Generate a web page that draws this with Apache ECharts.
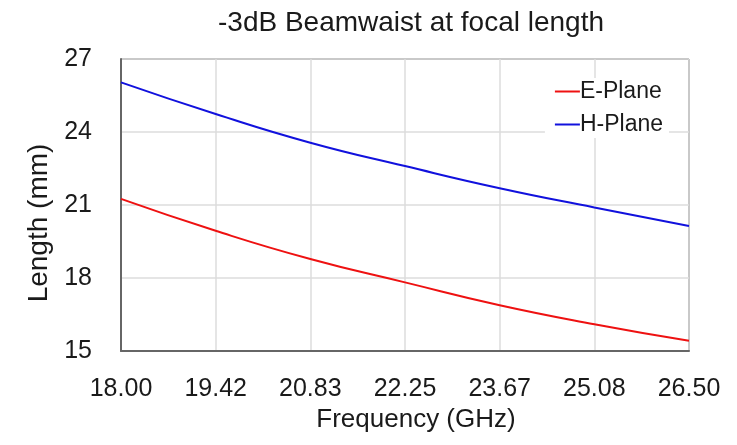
<!DOCTYPE html>
<html>
<head>
<meta charset="utf-8">
<script src="https://cdn.jsdelivr.net/npm/echarts@6/dist/echarts.min.js"></script>
<style>
  html, body { margin: 0; padding: 0; background: #fff; }
  #chart { width: 737px; height: 445px; }
</style>
</head>
<body>
<div id="chart"></div>
<script>
// frequency tick labels (GHz)
var freqLabels = ['18.00', '19.42', '20.83', '22.25', '23.67', '25.08', '26.50']
// -3dB beamwaist (mm)
var ePlane = [21.25, 19.94, 18.78, 17.82, 16.88, 16.10, 15.42]
var hPlane = [26.04, 24.74, 23.56, 22.60, 21.69, 20.90, 20.14]

var font = "'Liberation Sans', Arial, sans-serif"

var chart = echarts.init(document.getElementById('chart'))
chart.setOption({
  animation: false,
  textStyle: { fontFamily: font },
  title: {
    text: '-3dB Beamwaist at focal length',
    left: 406,
    textAlign: 'center',
    top: 4,
    textStyle: { fontFamily: font, fontSize: 28, fontWeight: 'normal', color: '#1a1a1a' }
  },
  grid: {
    left: 121,
    right: 48,
    top: 59,
    bottom: 94,
    show: true,
    borderColor: '#222',
    borderWidth: 1
  },
  legend: {
    right: 68,
    top: 78,
    orient: 'vertical',
    itemWidth: 25,
    itemHeight: 2,
    itemGap: 10,
    padding: [2, 6, 2, 10],
    backgroundColor: '#fff',
    icon: 'rect',
    textStyle: { fontFamily: font, fontSize: 23, color: '#1a1a1a', padding: [0, 0, 0, -5] },
    data: ['E-Plane', 'H-Plane']
  },
  xAxis: {
    type: 'category',
    data: freqLabels,
    boundaryGap: false,
    name: 'Frequency (GHz)',
    nameLocation: 'middle',
    nameGap: 48,
    nameTextStyle: { fontFamily: font, fontSize: 26, color: '#1a1a1a', padding: [0, 0, 0, 22] },
    axisLine: { lineStyle: { color: '#666', width: 2 } },
    axisTick: { show: false },
    axisLabel: { fontFamily: font, fontSize: 25, color: '#1a1a1a', margin: 26 },
    splitLine: { show: true, lineStyle: { color: '#ddd', width: 1.5 } }
  },
  yAxis: {
    type: 'value',
    min: 15,
    max: 27,
    interval: 3,
    name: 'Length (mm)',
    nameLocation: 'middle',
    nameGap: 68,
    nameTextStyle: { fontFamily: font, fontSize: 28, color: '#1a1a1a', padding: [0, 36, 0, 0] },
    axisLine: { show: true, lineStyle: { color: '#666', width: 2 } },
    axisTick: { show: false },
    axisLabel: { fontFamily: font, fontSize: 25, color: '#1a1a1a', margin: 29 },
    splitLine: { show: true, lineStyle: { color: '#ddd', width: 1.5 } }
  },
  series: [
    {
      name: 'E-Plane',
      type: 'line',
      data: ePlane,
      smooth: true,
      showSymbol: false,
      color: '#ee1111',
      lineStyle: { width: 2, color: '#ee1111' }
    },
    {
      name: 'H-Plane',
      type: 'line',
      data: hPlane,
      smooth: true,
      showSymbol: false,
      color: '#1111dd',
      lineStyle: { width: 2, color: '#1111dd' }
    }
  ]
})
</script>
</body>
</html>
